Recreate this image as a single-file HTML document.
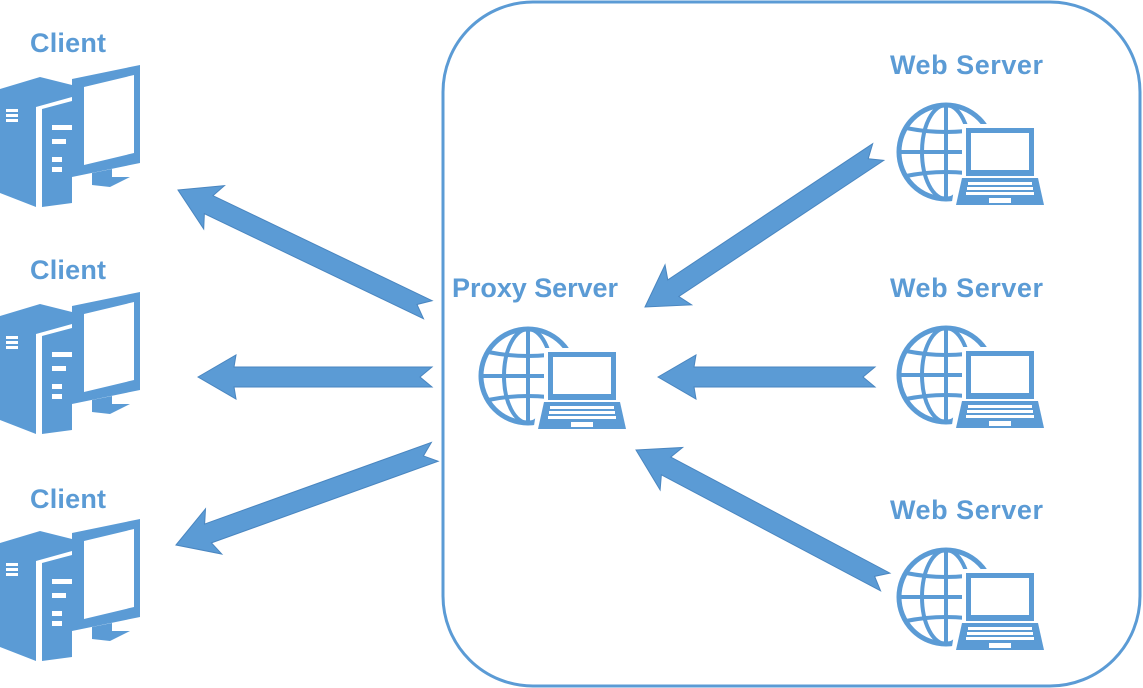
<!DOCTYPE html>
<html><head><meta charset="utf-8"><style>
html,body{margin:0;padding:0;background:#fff;width:1143px;height:688px;overflow:hidden}
svg{display:block}
text{font-family:"Liberation Sans",sans-serif;font-weight:bold;fill:#5b9bd5}
</style></head><body>
<svg width="1143" height="688" viewBox="0 0 1143 688">
<defs>
<g id="ws">
  <circle cx="52" cy="58" r="47" fill="none" stroke="#5b9bd5" stroke-width="5"/>
  <ellipse cx="52" cy="58" rx="24" ry="47" fill="none" stroke="#5b9bd5" stroke-width="4"/>
  <line x1="52" y1="11" x2="52" y2="105" stroke="#5b9bd5" stroke-width="4"/>
  <line x1="5" y1="58" x2="99" y2="58" stroke="#5b9bd5" stroke-width="4"/>
  <path d="M12 34 Q52 42 92 34 M12 82 Q52 74 92 82" fill="none" stroke="#5b9bd5" stroke-width="4"/>
  <rect x="68" y="30" width="80" height="56" fill="#fff"/>
  <polygon points="62,82 152,82 157,114 57,114" fill="#fff"/>
  <rect x="72" y="34" width="68" height="48" fill="#5b9bd5"/>
  <rect x="77" y="39" width="58" height="37" fill="#fff"/>
  <polygon points="68,84 144,84 150,111 62,111" fill="#5b9bd5"/>
  <g fill="#fff">
    <rect x="74" y="88" width="64" height="3"/><rect x="73" y="93" width="66" height="3"/><rect x="72" y="98" width="68" height="3"/>
    <rect x="95" y="104" width="22" height="5"/>
  </g>
</g>
<g id="cl">
  <polygon points="0,24 40,12 72,20 72,32 36,42 36,142 0,128" fill="#5b9bd5"/>
  <polygon points="42,44 72,36 72,138 42,142" fill="#5b9bd5"/>
  <g fill="#fff"><rect x="6" y="44" width="12" height="3"/><rect x="6" y="49" width="12" height="3"/><rect x="6" y="54" width="12" height="3"/>
  <rect x="52" y="60" width="20" height="5"/><rect x="52" y="74" width="14" height="5"/><rect x="52" y="92" width="10" height="5"/><rect x="52" y="102" width="10" height="5"/></g>
  <polygon points="72,14 140,0 140,98 72,112" fill="#5b9bd5"/>
  <polygon points="84,22 134,10 134,88 84,100" fill="#fff"/>
  <polygon points="92,108 112,104 112,112 130,112 110,122 92,120" fill="#5b9bd5"/>
</g>
</defs>
<rect x="443" y="2" width="697" height="684" rx="90" ry="90" fill="none" stroke="#5b9bd5" stroke-width="3"/>

<text x="30" y="52" font-size="27" textLength="76">Client</text>
<text x="30" y="279" font-size="27" textLength="76">Client</text>
<text x="30" y="508" font-size="27" textLength="76">Client</text>
<use href="#cl" x="0" y="65"/>
<use href="#cl" x="0" y="292"/>
<use href="#cl" x="0" y="519"/>

<text x="890" y="74" font-size="27" textLength="153">Web Server</text>
<text x="890" y="297" font-size="27" textLength="153">Web Server</text>
<text x="890" y="519" font-size="27" textLength="153">Web Server</text>
<text x="452" y="297" font-size="27" textLength="166">Proxy Server</text>
<use href="#ws" x="894" y="94"/>
<use href="#ws" x="894" y="317"/>
<use href="#ws" x="894" y="539"/>
<use href="#ws" x="476" y="318"/>

<g fill="#5b9bd5" stroke="#4a86c0" stroke-width="1">
  <g transform="translate(178,190) rotate(25.6)"><polygon points="0,0 40,-24 34,-10 277,-10 265,0 277,10 34,10 40,24"/></g>
  <g transform="translate(198,377)"><polygon points="0,0 38,-22 36,-10 234,-10 222,0 234,10 36,10 38,22"/></g>
  <g transform="translate(176,545) rotate(-19.8)"><polygon points="0,0 40,-24 34,-10 275,-10 263,0 275,10 34,10 40,24"/></g>
  <g transform="translate(645,307) rotate(-33.6)"><polygon points="0,0 40,-24 34,-10 280,-10 268,0 280,10 34,10 40,24"/></g>
  <g transform="translate(658,377)"><polygon points="0,0 38,-22 36,-10 217,-10 205,0 217,10 36,10 38,22"/></g>
  <g transform="translate(636,450) rotate(27.9)"><polygon points="0,0 40,-24 34,-10 282,-10 270,0 282,10 34,10 40,24"/></g>
</g>
</svg>
</body></html>
